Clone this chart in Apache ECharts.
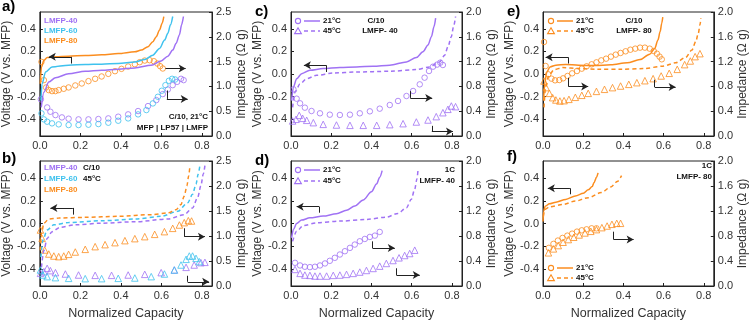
<!DOCTYPE html>
<html>
<head>
<meta charset="utf-8">
<script src="https://cdn.jsdelivr.net/npm/echarts@6.0.0/dist/echarts.min.js"></script>
<style>
  html, body { margin: 0; padding: 0; background: #fff; }
  #chart { width: 750px; height: 321px; }
</style>
</head>
<body>
<div id="chart"></div>
<script>
// colours of the three cathodes
const PURPLE = '#a072f4'
const CYAN = '#3fc2ee'
const ORANGE = '#fb8d1f'

const xTicks = [0, 0.2, 0.4, 0.6, 0.8]
const vTicks = [-0.4, -0.2, 0, 0.2, 0.4]

// a) C/10, 21°C  voltage (left axis)
const aV40 = [[0.007,-0.296],[0.020,-0.161],[0.044,-0.072],[0.077,-0.033],[0.142,0.003],[0.224,0.024],[0.305,0.033],[0.387,0.042],[0.469,0.054],[0.550,0.078],[0.599,0.116],[0.632,0.158],[0.656,0.212],[0.673,0.272],[0.689,0.346],[0.700,0.436],[0.709,0.510]]
const aV60 = [[0.005,-0.236],[0.011,-0.087],[0.028,0.018],[0.060,0.063],[0.142,0.078],[0.224,0.084],[0.305,0.087],[0.387,0.093],[0.469,0.107],[0.518,0.128],[0.558,0.167],[0.591,0.227],[0.616,0.301],[0.632,0.361],[0.645,0.436],[0.656,0.510]]
const aV80 = [[0.002,-0.087],[0.008,0.063],[0.020,0.122],[0.036,0.146],[0.077,0.152],[0.142,0.158],[0.224,0.164],[0.305,0.170],[0.387,0.182],[0.469,0.197],[0.501,0.212],[0.534,0.242],[0.558,0.287],[0.575,0.331],[0.591,0.391],[0.604,0.451],[0.612,0.510]]
// a) impedance (right axis)
const aZ40 = [[0.005,0.74],[0.036,0.576],[0.052,0.489],[0.077,0.422],[0.109,0.375],[0.142,0.349],[0.191,0.335],[0.240,0.335],[0.289,0.342],[0.338,0.355],[0.387,0.389],[0.436,0.436],[0.485,0.503],[0.534,0.603],[0.575,0.724],[0.607,0.845],[0.632,0.938],[0.656,1.025],[0.678,1.092],[0.697,1.153],[0.710,1.126]]
const aZ60 = [[0.008,0.456],[0.020,0.335],[0.036,0.288],[0.060,0.255],[0.093,0.235],[0.142,0.221],[0.191,0.221],[0.240,0.228],[0.289,0.241],[0.338,0.268],[0.387,0.308],[0.436,0.355],[0.485,0.436],[0.526,0.523],[0.558,0.657],[0.583,0.791],[0.602,0.912],[0.620,1.025],[0.637,1.113],[0.653,1.153],[0.668,1.139]]
const aZ80 = [[0.008,1.495],[0.020,1.126],[0.031,0.979],[0.044,0.925],[0.060,0.905],[0.077,0.905],[0.093,0.925],[0.118,0.952],[0.142,0.979],[0.175,1.019],[0.207,1.059],[0.240,1.106],[0.273,1.153],[0.305,1.200],[0.338,1.253],[0.371,1.307],[0.403,1.354],[0.436,1.401],[0.469,1.448],[0.493,1.488],[0.518,1.521],[0.542,1.528],[0.563,1.508],[0.580,1.461],[0.594,1.408],[0.607,1.361]]

// b) C/10, 45°C
const bV40 = [[0.008,-0.385],[0.020,-0.236],[0.036,-0.131],[0.060,-0.072],[0.101,-0.033],[0.175,-0.012],[0.305,0.003],[0.469,0.015],[0.632,0.039],[0.713,0.078],[0.754,0.137],[0.779,0.227],[0.795,0.331],[0.807,0.436],[0.815,0.510]]
const bV60 = [[0.005,-0.296],[0.015,-0.146],[0.036,-0.057],[0.069,-0.012],[0.142,0.009],[0.305,0.024],[0.469,0.039],[0.599,0.063],[0.681,0.107],[0.730,0.182],[0.754,0.257],[0.771,0.346],[0.782,0.436],[0.790,0.510]]
const bV80 = [[0.002,-0.236],[0.008,-0.087],[0.020,0.003],[0.044,0.039],[0.093,0.048],[0.224,0.054],[0.387,0.063],[0.550,0.078],[0.632,0.093],[0.673,0.122],[0.697,0.167],[0.713,0.242],[0.726,0.331],[0.735,0.421],[0.741,0.510]]
const bZ40 = [[0.003,0.253],[0.020,0.287],[0.036,0.353],[0.052,0.307],[0.077,0.267],[0.126,0.240],[0.191,0.220],[0.273,0.213],[0.354,0.213],[0.436,0.220],[0.518,0.233],[0.599,0.267],[0.664,0.320],[0.722,0.373],[0.762,0.420],[0.795,0.467],[0.815,0.473]]
const bZ60 = [[0.003,0.320],[0.015,0.220],[0.036,0.187],[0.077,0.167],[0.142,0.153],[0.224,0.147],[0.305,0.147],[0.387,0.153],[0.469,0.160],[0.550,0.187],[0.615,0.240],[0.664,0.320],[0.697,0.420],[0.722,0.533],[0.738,0.600],[0.754,0.600],[0.771,0.553],[0.787,0.487]]
const bZ80 = [[0.003,1.120],[0.011,0.953],[0.024,0.720],[0.044,0.640],[0.069,0.600],[0.093,0.587],[0.118,0.600],[0.142,0.633],[0.175,0.680],[0.224,0.733],[0.273,0.787],[0.322,0.827],[0.371,0.867],[0.420,0.907],[0.469,0.947],[0.518,0.987],[0.567,1.033],[0.615,1.087],[0.656,1.153],[0.689,1.220],[0.713,1.267],[0.733,1.307],[0.749,1.300]]

// c) LMFP-40, C/10
const cV21 = [[0.003,-0.236],[0.012,-0.116],[0.028,-0.042],[0.053,0.003],[0.094,0.033],[0.160,0.048],[0.243,0.057],[0.326,0.063],[0.408,0.069],[0.491,0.078],[0.574,0.107],[0.623,0.146],[0.656,0.197],[0.681,0.257],[0.698,0.331],[0.711,0.421],[0.719,0.496]]
const cV45 = [[0.008,-0.296],[0.020,-0.161],[0.045,-0.087],[0.078,-0.042],[0.127,-0.012],[0.210,0.009],[0.326,0.018],[0.491,0.024],[0.623,0.039],[0.689,0.063],[0.739,0.107],[0.764,0.167],[0.780,0.242],[0.797,0.331],[0.808,0.421],[0.818,0.510]]
const cZ21 = [[0.012,0.753],[0.028,0.602],[0.045,0.527],[0.069,0.457],[0.102,0.403],[0.144,0.366],[0.193,0.344],[0.243,0.339],[0.293,0.344],[0.342,0.366],[0.392,0.398],[0.441,0.441],[0.491,0.500],[0.532,0.565],[0.574,0.645],[0.607,0.726],[0.640,0.833],[0.664,0.941],[0.686,1.048],[0.706,1.118],[0.726,1.151],[0.742,1.183],[0.755,1.145]]
const cZ45 = [[0.008,0.242],[0.025,0.269],[0.041,0.333],[0.058,0.285],[0.078,0.253],[0.111,0.215],[0.160,0.188],[0.226,0.177],[0.293,0.172],[0.359,0.172],[0.426,0.172],[0.491,0.183],[0.557,0.199],[0.623,0.226],[0.681,0.258],[0.722,0.312],[0.755,0.376],[0.780,0.430],[0.797,0.484],[0.818,0.473]]

// d) LMFP-40, 1C
const dV21 = [[0.003,-0.127],[0.012,-0.053],[0.028,0.000],[0.053,0.030],[0.094,0.050],[0.160,0.065],[0.226,0.086],[0.276,0.116],[0.317,0.154],[0.359,0.207],[0.400,0.279],[0.425,0.347],[0.441,0.406],[0.453,0.465]]
const dV45 = [[0.008,-0.157],[0.028,-0.068],[0.061,-0.018],[0.127,0.006],[0.243,0.021],[0.375,0.036],[0.474,0.056],[0.532,0.089],[0.574,0.139],[0.598,0.213],[0.615,0.302],[0.626,0.391],[0.631,0.465]]
const dZ21 = [[0.020,0.371],[0.045,0.329],[0.069,0.308],[0.094,0.302],[0.119,0.308],[0.144,0.329],[0.169,0.361],[0.193,0.403],[0.218,0.451],[0.243,0.504],[0.268,0.557],[0.293,0.610],[0.317,0.663],[0.342,0.716],[0.367,0.753],[0.392,0.785],[0.417,0.806],[0.441,0.865]]
const dZ45 = [[0.020,0.265],[0.045,0.202],[0.069,0.175],[0.094,0.170],[0.119,0.159],[0.144,0.159],[0.177,0.159],[0.210,0.170],[0.243,0.175],[0.276,0.186],[0.309,0.202],[0.342,0.223],[0.375,0.249],[0.408,0.281],[0.441,0.318],[0.474,0.361],[0.507,0.408],[0.537,0.451],[0.565,0.488],[0.590,0.520],[0.615,0.573]]

// e) LMFP-80, C/10
const eV21 = [[0.003,-0.236],[0.008,-0.087],[0.019,0.018],[0.035,0.063],[0.064,0.078],[0.113,0.084],[0.177,0.078],[0.258,0.075],[0.338,0.081],[0.419,0.099],[0.483,0.128],[0.531,0.176],[0.556,0.227],[0.572,0.301],[0.583,0.376],[0.591,0.451],[0.596,0.504]]
const eV45 = [[0.005,-0.296],[0.013,-0.116],[0.029,-0.012],[0.056,0.039],[0.097,0.057],[0.177,0.048],[0.274,0.042],[0.386,0.042],[0.499,0.048],[0.596,0.069],[0.660,0.099],[0.709,0.146],[0.741,0.212],[0.760,0.287],[0.773,0.361],[0.781,0.436],[0.786,0.496]]
const eZ21 = [[0.005,1.516],[0.013,1.129],[0.026,0.995],[0.042,0.925],[0.060,0.898],[0.081,0.903],[0.100,0.930],[0.122,0.968],[0.145,1.011],[0.169,1.048],[0.193,1.086],[0.217,1.124],[0.242,1.156],[0.266,1.188],[0.290,1.220],[0.314,1.247],[0.338,1.280],[0.362,1.312],[0.386,1.339],[0.411,1.366],[0.435,1.392],[0.459,1.409],[0.483,1.425],[0.507,1.425],[0.531,1.409],[0.551,1.371],[0.567,1.328],[0.580,1.280],[0.591,1.237]]
const eZ45 = [[0.005,0.887],[0.016,0.780],[0.032,0.688],[0.048,0.618],[0.064,0.581],[0.084,0.565],[0.105,0.570],[0.129,0.591],[0.161,0.624],[0.193,0.656],[0.225,0.688],[0.266,0.720],[0.306,0.753],[0.346,0.780],[0.386,0.806],[0.427,0.833],[0.467,0.860],[0.507,0.892],[0.548,0.925],[0.588,0.968],[0.628,1.011],[0.668,1.075],[0.705,1.151],[0.733,1.210],[0.757,1.280],[0.781,1.328]]

// f) LMFP-80, 1C
const fV21 = [[0.000,0.018],[0.003,0.107],[0.011,0.152],[0.032,0.173],[0.064,0.188],[0.113,0.212],[0.161,0.242],[0.201,0.266],[0.225,0.296],[0.245,0.325],[0.254,0.361],[0.266,0.406],[0.274,0.445]]
const fV45 = [[0.002,0.063],[0.008,0.122],[0.032,0.146],[0.097,0.167],[0.161,0.197],[0.225,0.227],[0.290,0.272],[0.338,0.322],[0.370,0.370],[0.391,0.421]]
const fZ21 = [[0.029,0.610],[0.052,0.674],[0.074,0.727],[0.097,0.769],[0.121,0.806],[0.145,0.838],[0.169,0.870],[0.193,0.891],[0.217,0.907],[0.242,0.923],[0.266,0.923]]
const fZ45 = [[0.027,0.531],[0.052,0.594],[0.076,0.647],[0.100,0.700],[0.126,0.743],[0.153,0.780],[0.180,0.817],[0.209,0.849],[0.238,0.875],[0.266,0.902],[0.293,0.934],[0.319,0.960],[0.343,0.987],[0.367,1.003],[0.386,1.003]]

// arrows pointing to the axis each curve belongs to (voltage-axis coords)
const arrowsA = [[[0.155,0.093],[0.155,0.152],[0.044,0.152]], [[0.62,0.048],[0.72,0.048]], [[0.627,-0.146],[0.627,-0.221],[0.73,-0.221]]]
const arrowsB = [[[0.163,0.078],[0.163,0.137],[0.052,0.137]], [[0.713,-0.042],[0.713,-0.116],[0.815,-0.116]], [[0.73,-0.46],[0.73,-0.513],[0.836,-0.513]]]
const arrowsC = [[[0.174,0.018],[0.174,0.078],[0.064,0.078]], [[0.593,-0.152],[0.593,-0.212],[0.702,-0.212]], [[0.7,-0.46],[0.7,-0.51],[0.805,-0.51]]]
const arrowsD = [[[0.14,0.095],[0.14,0.148],[0.028,0.148]], [[0.405,-0.157],[0.405,-0.216],[0.516,-0.216]], [[0.524,-0.394],[0.524,-0.453],[0.64,-0.453]]]
const arrowsE = [[[0.126,0.093],[0.126,0.148],[0.013,0.148]], [[0.126,-0.033],[0.126,-0.11],[0.225,-0.11]], [[0.556,-0.051],[0.556,-0.116],[0.66,-0.116]]]
const arrowsF = [[[0.134,0.257],[0.134,0.31],[0.024,0.31]], [[0.351,-0.072],[0.351,-0.14],[0.451,-0.14]]]

const panels = [
    { grid: { left: 38, top: 12, width: 174, height: 124 }, zMax: 2.5, zInt: 0.5, arrows: arrowsA,
      lines: [[aV40, PURPLE, 'solid'], [aV60, CYAN, 'solid'], [aV80, ORANGE, 'solid']],
      dots: [[aZ40, PURPLE, 'circle'], [aZ60, CYAN, 'circle'], [aZ80, ORANGE, 'circle']] },
    { grid: { left: 38, top: 161, width: 174, height: 125 }, zMax: 2.5, zInt: 0.5, arrows: arrowsB,
      lines: [[bV40, PURPLE, 'dashed'], [bV60, CYAN, 'dashed'], [bV80, ORANGE, 'dashed']],
      dots: [[bZ40, PURPLE, 'triangle'], [bZ60, CYAN, 'triangle'], [bZ80, ORANGE, 'triangle']] },
    { grid: { left: 291, top: 12, width: 171, height: 124 }, zMax: 2.0, zInt: 0.4, arrows: arrowsC,
      lines: [[cV21, PURPLE, 'solid'], [cV45, PURPLE, 'dashed']],
      dots: [[cZ21, PURPLE, 'circle'], [cZ45, PURPLE, 'triangle']] },
    { grid: { left: 291, top: 161, width: 171, height: 125 }, zMax: 2.0, zInt: 0.4, arrows: arrowsD,
      lines: [[dV21, PURPLE, 'solid'], [dV45, PURPLE, 'dashed']],
      dots: [[dZ21, PURPLE, 'circle'], [dZ45, PURPLE, 'triangle']] },
    { grid: { left: 543, top: 12, width: 173, height: 124 }, zMax: 2.0, zInt: 0.4, arrows: arrowsE,
      lines: [[eV21, ORANGE, 'solid'], [eV45, ORANGE, 'dashed']],
      dots: [[eZ21, ORANGE, 'circle'], [eZ45, ORANGE, 'triangle']] },
    { grid: { left: 543, top: 161, width: 173, height: 125 }, zMax: 2.0, zInt: 0.4, arrows: arrowsF,
      lines: [[fV21, ORANGE, 'solid'], [fV45, ORANGE, 'dashed']],
      dots: [[fZ21, ORANGE, 'circle'], [fZ45, ORANGE, 'triangle']] }
]

const FONT = 'Liberation Sans, Arial, sans-serif'
const labelStyle = { color: '#333', fontSize: 11, fontFamily: FONT }
const nameStyle = { color: '#333', fontSize: 12, fontFamily: FONT }
const axisLine = { show: true, onZero: false, lineStyle: { color: '#222', width: 1 } }
const fmt = v => (Math.abs(v) < 1e-9 ? 0 : v).toFixed(1)

const grid = [], xAxis = [], yAxis = [], series = []

panels.forEach((p, i) => {
    grid.push(Object.assign({ show: true, borderColor: '#222', borderWidth: 1, backgroundColor: 'transparent' }, p.grid))
    const bottomRow = i % 2 === 1
    xAxis.push({
        gridIndex: i, type: 'value', min: 0, max: 0.85, position: 'bottom',
        axisLine, splitLine: { show: false },
        axisTick: { inside: true, length: 3, customValues: xTicks, lineStyle: { color: '#222' } },
        axisLabel: Object.assign({ customValues: xTicks, formatter: fmt, margin: 4 }, labelStyle),
        name: bottomRow ? 'Normalized Capacity' : '',
        nameLocation: 'middle', nameGap: 21, nameTextStyle: Object.assign({}, nameStyle, { fontSize: 12.5 })
    })
    yAxis.push({
        gridIndex: i, type: 'value', position: 'left', min: -0.55, max: 0.55,
        axisLine, splitLine: { show: false },
        axisTick: { inside: true, length: 3, customValues: vTicks, lineStyle: { color: '#222' } },
        axisLabel: Object.assign({ customValues: vTicks, formatter: fmt, margin: 4 }, labelStyle),
        name: 'Voltage (V vs. MFP)', nameLocation: 'middle', nameGap: 23, nameTextStyle: nameStyle
    })
    yAxis.push({
        gridIndex: i, type: 'value', position: 'right', min: 0, max: p.zMax, interval: p.zInt,
        axisLine, splitLine: { show: false },
        axisTick: { inside: true, length: 3, lineStyle: { color: '#222' } },
        axisLabel: Object.assign({ formatter: fmt, margin: 4 }, labelStyle),
        name: 'Impedance (Ω g)', nameLocation: 'middle', nameGap: 22, nameTextStyle: nameStyle
    })

    // arrow annotations, drawn as marklines on the first voltage curve
    const ml = []
    p.arrows.forEach(pts => {
        for (let k = 0; k < pts.length - 1; k++) {
            const last = k === pts.length - 2
            ml.push([{ coord: pts[k], symbol: 'none' }, { coord: pts[k + 1], symbol: last ? 'arrow' : 'none' }])
        }
    })

    p.lines.forEach(([data, color, type], j) => {
        const s = {
            type: 'line', xAxisIndex: i, yAxisIndex: 2 * i, data,
            showSymbol: false, smooth: 0.3, smoothMonotone: 'x', silent: true,
            lineStyle: { color, width: 1.5, type: type === 'dashed' ? [4, 3] : 'solid' }
        }
        if (j === 0) {
            s.markLine = {
                silent: true, animation: false, symbolSize: [6, 7], label: { show: false },
                lineStyle: { color: '#222', width: 1, type: 'solid' }, emphasis: { disabled: true },
                data: ml
            }
        }
        series.push(s)
    })
    p.dots.forEach(([data, color, symbol]) => {
        series.push({
            type: 'scatter', xAxisIndex: i, yAxisIndex: 2 * i + 1, data, silent: true,
            symbol, symbolSize: symbol === 'triangle' ? 6.5 : 5.5,
            itemStyle: { color: 'rgba(255,255,255,0)', borderColor: color, borderWidth: 1 }
        })
    })
})

// texts and hand-made legends
const g = []
const txt = (x, y, text, opts = {}) => g.push({
    type: 'text', x, y, silent: true,
    style: Object.assign({ text, fill: '#111', font: 'bold 8px ' + FONT, textAlign: 'left', textVerticalAlign: 'middle' }, opts)
})
const circ = (cx, cy, color) => g.push({ type: 'circle', silent: true, shape: { cx, cy, r: 2.6 }, style: { fill: 'none', stroke: color, lineWidth: 1.1 } })
const tri = (cx, cy, color) => g.push({ type: 'polygon', silent: true, shape: { points: [[cx, cy - 3.2], [cx + 3.4, cy + 2.6], [cx - 3.4, cy + 2.6]] }, style: { fill: 'none', stroke: color, lineWidth: 1.1 } })
const seg = (x1, x2, y, color, dashed) => g.push({ type: 'line', silent: true, shape: { x1, y1: y, x2, y2: y }, style: { stroke: color, lineWidth: 1.5, lineDash: dashed ? [4, 3] : null } })
const tempLegend = (x, y1, y2, color) => {
    circ(x, y1, color); seg(x + 6, x + 22, y1, color, false); txt(x + 25, y1, '21°C')
    tri(x, y2, color); seg(x + 6, x + 22, y2, color, true); txt(x + 25, y2, '45°C')
}

// panel letters
;[['a)', 2, 7], ['b)', 2, 159], ['c)', 255, 12], ['d)', 255, 161], ['e)', 507, 12], ['f)', 507, 157]].forEach(([t, x, y]) => {
    txt(x, y, t, { font: 'bold 15px ' + FONT, fill: '#000' })
})

// a
txt(44, 21, 'LMFP-40', { fill: PURPLE }); txt(44, 31, 'LMFP-60', { fill: CYAN }); txt(44, 41, 'LMFP-80', { fill: ORANGE })
txt(208, 117, 'C/10, 21°C', { textAlign: 'right' }); txt(208, 128, 'MFP | LP57 | LMFP', { textAlign: 'right' })
// b
txt(44, 168, 'LMFP-40', { fill: PURPLE }); txt(44, 179, 'LMFP-60', { fill: CYAN }); txt(44, 190, 'LMFP-80', { fill: ORANGE })
txt(83, 168, 'C/10'); txt(83, 179, '45°C')
// c
tempLegend(298, 21, 31, PURPLE)
txt(376, 21, 'C/10', { textAlign: 'center' }); txt(380, 31, 'LMFP- 40', { textAlign: 'center' })
// d
tempLegend(298, 170, 181, PURPLE)
txt(455, 170, '1C', { textAlign: 'right' }); txt(455, 181, 'LMFP- 40', { textAlign: 'right' })
// e
tempLegend(551, 21, 31, ORANGE)
txt(634, 21, 'C/10', { textAlign: 'center' }); txt(634, 31, 'LMFP- 80', { textAlign: 'center' })
// f
tempLegend(551, 268, 278, ORANGE)
txt(712, 166, '1C', { textAlign: 'right' }); txt(712, 177, 'LMFP- 80', { textAlign: 'right' })

const chart = echarts.init(document.getElementById('chart'), null, { renderer: 'canvas' })
chart.setOption({
    animation: false,
    backgroundColor: '#fff',
    grid, xAxis, yAxis, series,
    graphic: g
})
</script>
</body>
</html>
